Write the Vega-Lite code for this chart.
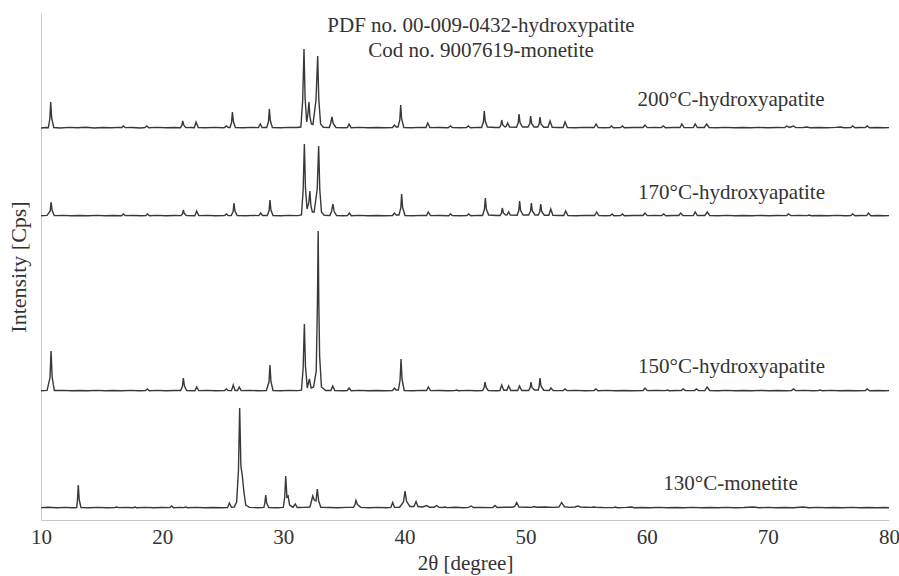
{
  "$schema": "https://vega.github.io/schema/vega-lite/v6.json",
  "autosize": "none",
  "padding": {"left": 41, "top": 13, "right": 10, "bottom": 56},
  "width": 848,
  "height": 507,
  "background": "white",
  "config": {
    "view": {"stroke": null},
    "font": "'Liberation Serif', 'Times New Roman', Times, serif",
    "axis": {"grid": false, "ticks": false, "tickSize": 0, "domainColor": "#c8c8c8", "domainWidth": 1, "labelFont": "'Liberation Serif', 'Times New Roman', Times, serif", "titleFont": "'Liberation Serif', 'Times New Roman', Times, serif", "labelFontSize": 21, "titleFontSize": 21, "titleFontWeight": "normal", "labelColor": "#333333", "titleColor": "#333333"},
    "text": {"font": "'Liberation Serif', 'Times New Roman', Times, serif"}
  },
  "datasets": {
    "s200": [
      {"t":10.0,"i":0},{"t":10.4,"i":5},{"t":10.6,"i":3},{"t":10.73,"i":90},{"t":10.8,"i":260},{"t":10.88,"i":100},{"t":11.05,"i":5},{"t":11.6,"i":0},{"t":12.3,"i":6},{"t":13.0,"i":2},{"t":13.7,"i":7},{"t":14.4,"i":0},{"t":15.1,"i":5},{"t":15.8,"i":3},{"t":16.5,"i":6},{"t":16.65,"i":2},{"t":16.8,"i":20},{"t":16.95,"i":4},{"t":17.5,"i":5},{"t":18.2,"i":0},{"t":18.58,"i":5},{"t":18.73,"i":20},{"t":18.9,"i":3},{"t":19.6,"i":6},{"t":20.3,"i":2},{"t":21.0,"i":5},{"t":21.5,"i":3},{"t":21.63,"i":25},{"t":21.7,"i":70},{"t":21.78,"i":30},{"t":21.95,"i":4},{"t":22.4,"i":5},{"t":22.65,"i":3},{"t":22.8,"i":60},{"t":22.98,"i":5},{"t":23.6,"i":2},{"t":24.3,"i":6},{"t":25.0,"i":3},{"t":25.15,"i":4},{"t":25.3,"i":20},{"t":25.45,"i":5},{"t":25.6,"i":5},{"t":25.73,"i":55},{"t":25.8,"i":160},{"t":25.88,"i":65},{"t":26.05,"i":5},{"t":26.7,"i":3},{"t":27.4,"i":6},{"t":27.95,"i":4},{"t":28.1,"i":40},{"t":28.25,"i":5},{"t":28.63,"i":5},{"t":28.78,"i":65},{"t":28.85,"i":190},{"t":28.93,"i":75},{"t":29.1,"i":5},{"t":29.8,"i":3},{"t":30.5,"i":6},{"t":31.1,"i":5},{"t":31.45,"i":10},{"t":31.6,"i":270},{"t":31.71,"i":790},{"t":31.8,"i":300},{"t":31.93,"i":60},{"t":32.03,"i":140},{"t":32.12,"i":260},{"t":32.2,"i":110},{"t":32.32,"i":40},{"t":32.45,"i":35},{"t":32.7,"i":280},{"t":32.84,"i":720},{"t":32.93,"i":290},{"t":33.08,"i":40},{"t":33.3,"i":8},{"t":33.8,"i":5},{"t":33.9,"i":40},{"t":34.02,"i":110},{"t":34.12,"i":45},{"t":34.35,"i":5},{"t":35.0,"i":3},{"t":35.3,"i":5},{"t":35.43,"i":40},{"t":35.6,"i":3},{"t":36.3,"i":6},{"t":37.0,"i":2},{"t":37.7,"i":5},{"t":38.4,"i":3},{"t":39.02,"i":5},{"t":39.17,"i":30},{"t":39.32,"i":10},{"t":39.47,"i":10},{"t":39.62,"i":80},{"t":39.69,"i":230},{"t":39.77,"i":90},{"t":39.95,"i":5},{"t":40.6,"i":3},{"t":41.3,"i":6},{"t":41.78,"i":5},{"t":41.92,"i":50},{"t":42.1,"i":4},{"t":42.8,"i":5},{"t":43.6,"i":3},{"t":43.8,"i":20},{"t":43.95,"i":5},{"t":44.6,"i":3},{"t":45.12,"i":5},{"t":45.27,"i":20},{"t":45.45,"i":3},{"t":46.1,"i":6},{"t":46.37,"i":5},{"t":46.52,"i":60},{"t":46.59,"i":170},{"t":46.67,"i":70},{"t":46.85,"i":10},{"t":47.5,"i":5},{"t":47.85,"i":5},{"t":47.96,"i":30},{"t":48.03,"i":80},{"t":48.12,"i":30},{"t":48.3,"i":10},{"t":48.4,"i":15},{"t":48.52,"i":50},{"t":48.68,"i":10},{"t":49.25,"i":8},{"t":49.39,"i":50},{"t":49.46,"i":140},{"t":49.54,"i":55},{"t":49.75,"i":10},{"t":50.2,"i":10},{"t":50.35,"i":45},{"t":50.42,"i":120},{"t":50.5,"i":45},{"t":50.7,"i":10},{"t":51.0,"i":10},{"t":51.12,"i":40},{"t":51.19,"i":110},{"t":51.27,"i":40},{"t":51.5,"i":8},{"t":51.85,"i":8},{"t":52.02,"i":70},{"t":52.2,"i":8},{"t":52.7,"i":5},{"t":53.1,"i":5},{"t":53.26,"i":60},{"t":53.45,"i":5},{"t":54.1,"i":3},{"t":54.8,"i":6},{"t":55.65,"i":5},{"t":55.82,"i":40},{"t":56.0,"i":5},{"t":56.5,"i":3},{"t":56.95,"i":4},{"t":57.1,"i":20},{"t":57.25,"i":3},{"t":57.85,"i":4},{"t":58.0,"i":20},{"t":58.15,"i":3},{"t":58.9,"i":5},{"t":59.7,"i":5},{"t":59.86,"i":30},{"t":60.05,"i":4},{"t":60.7,"i":6},{"t":61.2,"i":4},{"t":61.37,"i":20},{"t":61.55,"i":3},{"t":62.2,"i":5},{"t":62.75,"i":5},{"t":62.9,"i":40},{"t":63.08,"i":5},{"t":63.6,"i":4},{"t":63.85,"i":5},{"t":64.0,"i":40},{"t":64.18,"i":5},{"t":64.75,"i":5},{"t":64.95,"i":40},{"t":65.15,"i":5},{"t":65.8,"i":3},{"t":66.5,"i":6},{"t":67.2,"i":2},{"t":67.9,"i":5},{"t":68.6,"i":3},{"t":69.3,"i":6},{"t":70.0,"i":2},{"t":70.7,"i":5},{"t":71.4,"i":4},{"t":71.56,"i":20},{"t":71.8,"i":6},{"t":72.1,"i":20},{"t":72.3,"i":4},{"t":72.9,"i":5},{"t":73.2,"i":10},{"t":73.5,"i":3},{"t":74.2,"i":5},{"t":74.9,"i":3},{"t":75.6,"i":6},{"t":76.0,"i":10},{"t":76.3,"i":3},{"t":76.85,"i":4},{"t":77.0,"i":20},{"t":77.2,"i":3},{"t":77.6,"i":5},{"t":78.05,"i":4},{"t":78.2,"i":20},{"t":78.4,"i":3},{"t":79.0,"i":5},{"t":79.6,"i":3},{"t":80.0,"i":4}
    ],
    "s170": [
      {"t":10.0,"i":3},{"t":10.5,"i":6},{"t":10.76,"i":50},{"t":10.83,"i":140},{"t":10.92,"i":55},{"t":11.1,"i":4},{"t":11.8,"i":6},{"t":12.5,"i":2},{"t":13.2,"i":5},{"t":13.9,"i":3},{"t":14.6,"i":6},{"t":15.3,"i":2},{"t":16.0,"i":5},{"t":16.65,"i":3},{"t":16.8,"i":20},{"t":16.95,"i":4},{"t":17.6,"i":5},{"t":18.3,"i":2},{"t":18.65,"i":4},{"t":18.8,"i":20},{"t":18.95,"i":3},{"t":19.6,"i":6},{"t":20.3,"i":2},{"t":21.0,"i":5},{"t":21.55,"i":4},{"t":21.68,"i":22},{"t":21.75,"i":60},{"t":21.83,"i":25},{"t":22.0,"i":4},{"t":22.7,"i":3},{"t":22.85,"i":50},{"t":23.02,"i":4},{"t":23.7,"i":6},{"t":24.4,"i":2},{"t":25.15,"i":5},{"t":25.3,"i":20},{"t":25.45,"i":4},{"t":25.7,"i":5},{"t":25.86,"i":45},{"t":25.93,"i":130},{"t":26.01,"i":50},{"t":26.2,"i":5},{"t":26.9,"i":3},{"t":27.6,"i":6},{"t":27.98,"i":4},{"t":28.13,"i":30},{"t":28.28,"i":5},{"t":28.68,"i":5},{"t":28.83,"i":55},{"t":28.9,"i":160},{"t":28.98,"i":60},{"t":29.15,"i":5},{"t":29.8,"i":3},{"t":30.5,"i":6},{"t":31.2,"i":4},{"t":31.5,"i":10},{"t":31.64,"i":260},{"t":31.74,"i":720},{"t":31.83,"i":280},{"t":31.96,"i":70},{"t":32.1,"i":130},{"t":32.2,"i":250},{"t":32.28,"i":100},{"t":32.4,"i":40},{"t":32.55,"i":40},{"t":32.8,"i":270},{"t":32.92,"i":700},{"t":33.01,"i":270},{"t":33.15,"i":40},{"t":33.38,"i":8},{"t":33.85,"i":5},{"t":33.98,"i":45},{"t":34.1,"i":120},{"t":34.2,"i":45},{"t":34.4,"i":5},{"t":35.0,"i":3},{"t":35.3,"i":4},{"t":35.45,"i":30},{"t":35.62,"i":3},{"t":36.3,"i":6},{"t":37.0,"i":2},{"t":37.7,"i":5},{"t":38.4,"i":3},{"t":39.02,"i":5},{"t":39.17,"i":30},{"t":39.32,"i":10},{"t":39.55,"i":10},{"t":39.7,"i":80},{"t":39.77,"i":220},{"t":39.85,"i":85},{"t":40.05,"i":5},{"t":40.7,"i":3},{"t":41.4,"i":6},{"t":41.83,"i":5},{"t":41.97,"i":40},{"t":42.15,"i":4},{"t":42.9,"i":5},{"t":43.65,"i":3},{"t":43.8,"i":20},{"t":43.95,"i":5},{"t":44.6,"i":3},{"t":45.15,"i":5},{"t":45.3,"i":20},{"t":45.47,"i":3},{"t":46.1,"i":6},{"t":46.45,"i":5},{"t":46.6,"i":65},{"t":46.68,"i":180},{"t":46.76,"i":70},{"t":46.95,"i":10},{"t":47.6,"i":5},{"t":47.9,"i":5},{"t":48.01,"i":30},{"t":48.08,"i":80},{"t":48.17,"i":30},{"t":48.35,"i":10},{"t":48.47,"i":12},{"t":48.6,"i":40},{"t":48.75,"i":10},{"t":49.3,"i":8},{"t":49.44,"i":55},{"t":49.51,"i":150},{"t":49.59,"i":55},{"t":49.8,"i":10},{"t":50.25,"i":10},{"t":50.41,"i":50},{"t":50.48,"i":130},{"t":50.56,"i":50},{"t":50.78,"i":10},{"t":51.05,"i":10},{"t":51.18,"i":45},{"t":51.25,"i":120},{"t":51.33,"i":45},{"t":51.55,"i":8},{"t":51.92,"i":8},{"t":52.08,"i":70},{"t":52.25,"i":8},{"t":52.8,"i":5},{"t":53.15,"i":5},{"t":53.31,"i":50},{"t":53.5,"i":5},{"t":54.2,"i":3},{"t":54.9,"i":6},{"t":55.7,"i":5},{"t":55.87,"i":40},{"t":56.05,"i":5},{"t":56.6,"i":3},{"t":57.0,"i":4},{"t":57.15,"i":20},{"t":57.3,"i":3},{"t":57.85,"i":4},{"t":58.0,"i":20},{"t":58.15,"i":3},{"t":58.9,"i":5},{"t":59.7,"i":5},{"t":59.86,"i":30},{"t":60.05,"i":4},{"t":60.7,"i":6},{"t":61.25,"i":4},{"t":61.4,"i":20},{"t":61.58,"i":3},{"t":62.2,"i":5},{"t":62.65,"i":5},{"t":62.8,"i":30},{"t":62.98,"i":5},{"t":63.6,"i":4},{"t":63.85,"i":5},{"t":64.0,"i":40},{"t":64.18,"i":5},{"t":64.8,"i":5},{"t":65.0,"i":40},{"t":65.2,"i":5},{"t":65.9,"i":3},{"t":66.6,"i":6},{"t":67.3,"i":2},{"t":68.0,"i":5},{"t":68.7,"i":3},{"t":69.4,"i":6},{"t":70.1,"i":2},{"t":70.8,"i":5},{"t":71.55,"i":4},{"t":71.7,"i":20},{"t":71.9,"i":4},{"t":72.6,"i":5},{"t":73.25,"i":4},{"t":73.4,"i":10},{"t":73.6,"i":3},{"t":74.3,"i":5},{"t":75.0,"i":3},{"t":75.7,"i":6},{"t":76.4,"i":3},{"t":76.85,"i":4},{"t":77.0,"i":20},{"t":77.2,"i":3},{"t":77.7,"i":5},{"t":78.15,"i":4},{"t":78.3,"i":30},{"t":78.5,"i":3},{"t":79.1,"i":5},{"t":79.6,"i":3},{"t":80.0,"i":4}
    ],
    "s150": [
      {"t":10.0,"i":3},{"t":10.5,"i":6},{"t":10.74,"i":130},{"t":10.83,"i":400},{"t":10.92,"i":140},{"t":11.1,"i":5},{"t":11.8,"i":6},{"t":12.5,"i":2},{"t":13.2,"i":5},{"t":13.9,"i":3},{"t":14.6,"i":6},{"t":15.3,"i":2},{"t":16.0,"i":5},{"t":16.7,"i":3},{"t":17.4,"i":6},{"t":18.1,"i":2},{"t":18.63,"i":4},{"t":18.78,"i":20},{"t":18.93,"i":3},{"t":19.6,"i":6},{"t":20.3,"i":2},{"t":21.0,"i":5},{"t":21.52,"i":5},{"t":21.67,"i":45},{"t":21.75,"i":130},{"t":21.84,"i":50},{"t":22.02,"i":4},{"t":22.7,"i":3},{"t":22.85,"i":40},{"t":23.02,"i":4},{"t":23.7,"i":6},{"t":24.4,"i":2},{"t":25.15,"i":5},{"t":25.3,"i":20},{"t":25.45,"i":4},{"t":25.72,"i":4},{"t":25.87,"i":60},{"t":26.02,"i":5},{"t":26.22,"i":5},{"t":26.37,"i":40},{"t":26.52,"i":4},{"t":27.2,"i":6},{"t":27.9,"i":3},{"t":28.6,"i":5},{"t":28.82,"i":90},{"t":28.9,"i":260},{"t":28.98,"i":95},{"t":29.15,"i":5},{"t":29.8,"i":3},{"t":30.5,"i":6},{"t":31.2,"i":4},{"t":31.5,"i":8},{"t":31.64,"i":230},{"t":31.74,"i":670},{"t":31.83,"i":250},{"t":31.98,"i":30},{"t":32.15,"i":120},{"t":32.3,"i":30},{"t":32.5,"i":40},{"t":32.72,"i":200},{"t":32.82,"i":900},{"t":32.88,"i":1600},{"t":32.93,"i":900},{"t":33.0,"i":350},{"t":33.15,"i":40},{"t":33.5,"i":5},{"t":33.93,"i":5},{"t":34.08,"i":50},{"t":34.25,"i":5},{"t":35.0,"i":3},{"t":35.28,"i":4},{"t":35.43,"i":30},{"t":35.6,"i":3},{"t":36.3,"i":6},{"t":37.0,"i":2},{"t":37.7,"i":5},{"t":38.4,"i":3},{"t":39.02,"i":5},{"t":39.17,"i":30},{"t":39.32,"i":10},{"t":39.5,"i":10},{"t":39.64,"i":110},{"t":39.72,"i":320},{"t":39.8,"i":120},{"t":39.98,"i":5},{"t":40.7,"i":3},{"t":41.4,"i":6},{"t":41.83,"i":5},{"t":41.97,"i":40},{"t":42.15,"i":4},{"t":42.9,"i":5},{"t":43.6,"i":3},{"t":44.15,"i":4},{"t":44.3,"i":10},{"t":44.45,"i":3},{"t":45.2,"i":6},{"t":45.9,"i":3},{"t":46.45,"i":5},{"t":46.58,"i":35},{"t":46.65,"i":90},{"t":46.74,"i":35},{"t":46.92,"i":5},{"t":47.6,"i":3},{"t":47.88,"i":5},{"t":48.03,"i":60},{"t":48.2,"i":8},{"t":48.45,"i":8},{"t":48.6,"i":50},{"t":48.78,"i":5},{"t":49.35,"i":5},{"t":49.5,"i":50},{"t":49.68,"i":5},{"t":50.25,"i":5},{"t":50.38,"i":35},{"t":50.45,"i":90},{"t":50.53,"i":35},{"t":50.75,"i":10},{"t":51.05,"i":10},{"t":51.12,"i":45},{"t":51.19,"i":130},{"t":51.27,"i":50},{"t":51.5,"i":8},{"t":51.95,"i":5},{"t":52.1,"i":30},{"t":52.28,"i":4},{"t":53.1,"i":4},{"t":53.26,"i":20},{"t":53.42,"i":4},{"t":54.1,"i":6},{"t":54.9,"i":3},{"t":55.65,"i":4},{"t":55.8,"i":20},{"t":55.98,"i":3},{"t":56.7,"i":6},{"t":57.4,"i":2},{"t":58.1,"i":5},{"t":58.8,"i":3},{"t":59.7,"i":5},{"t":59.86,"i":30},{"t":60.05,"i":4},{"t":60.8,"i":6},{"t":61.55,"i":4},{"t":61.7,"i":10},{"t":61.85,"i":3},{"t":62.5,"i":5},{"t":62.85,"i":4},{"t":63.0,"i":20},{"t":63.18,"i":4},{"t":63.95,"i":5},{"t":64.1,"i":20},{"t":64.28,"i":4},{"t":64.8,"i":5},{"t":64.98,"i":40},{"t":65.2,"i":5},{"t":65.9,"i":3},{"t":66.6,"i":6},{"t":67.3,"i":2},{"t":68.0,"i":5},{"t":68.7,"i":3},{"t":69.4,"i":6},{"t":70.1,"i":2},{"t":70.8,"i":5},{"t":71.5,"i":3},{"t":71.95,"i":4},{"t":72.1,"i":20},{"t":72.3,"i":4},{"t":73.0,"i":6},{"t":73.7,"i":3},{"t":74.15,"i":4},{"t":74.3,"i":10},{"t":74.5,"i":3},{"t":75.2,"i":6},{"t":75.9,"i":3},{"t":76.6,"i":5},{"t":77.3,"i":3},{"t":78.05,"i":4},{"t":78.2,"i":20},{"t":78.4,"i":3},{"t":79.1,"i":5},{"t":79.6,"i":3},{"t":80.0,"i":4}
    ],
    "s130": [
      {"t":10.0,"i":4},{"t":10.6,"i":7},{"t":11.3,"i":2},{"t":12.0,"i":6},{"t":12.6,"i":3},{"t":12.95,"i":5},{"t":13.01,"i":80},{"t":13.08,"i":230},{"t":13.15,"i":85},{"t":13.3,"i":5},{"t":14.0,"i":3},{"t":14.7,"i":6},{"t":15.4,"i":2},{"t":16.1,"i":5},{"t":16.25,"i":10},{"t":16.4,"i":4},{"t":17.0,"i":6},{"t":17.6,"i":3},{"t":17.76,"i":10},{"t":17.9,"i":3},{"t":18.6,"i":6},{"t":19.3,"i":2},{"t":20.0,"i":5},{"t":20.64,"i":4},{"t":20.79,"i":20},{"t":20.95,"i":3},{"t":21.5,"i":6},{"t":21.8,"i":4},{"t":21.94,"i":10},{"t":22.1,"i":3},{"t":22.8,"i":6},{"t":23.5,"i":2},{"t":24.2,"i":5},{"t":24.9,"i":3},{"t":25.4,"i":5},{"t":25.55,"i":50},{"t":25.72,"i":8},{"t":25.95,"i":10},{"t":26.15,"i":60},{"t":26.3,"i":380},{"t":26.4,"i":1000},{"t":26.5,"i":420},{"t":26.62,"i":320},{"t":26.75,"i":160},{"t":26.9,"i":30},{"t":27.03,"i":20},{"t":27.2,"i":6},{"t":27.9,"i":3},{"t":28.4,"i":6},{"t":28.48,"i":50},{"t":28.55,"i":130},{"t":28.63,"i":50},{"t":28.8,"i":5},{"t":29.5,"i":3},{"t":30.0,"i":6},{"t":30.12,"i":110},{"t":30.2,"i":320},{"t":30.3,"i":110},{"t":30.4,"i":120},{"t":30.52,"i":30},{"t":30.8,"i":8},{"t":30.99,"i":40},{"t":31.15,"i":5},{"t":31.8,"i":6},{"t":32.2,"i":10},{"t":32.35,"i":80},{"t":32.43,"i":120},{"t":32.55,"i":80},{"t":32.7,"i":70},{"t":32.81,"i":190},{"t":32.92,"i":70},{"t":33.1,"i":8},{"t":33.8,"i":5},{"t":34.5,"i":3},{"t":35.2,"i":6},{"t":35.8,"i":8},{"t":35.93,"i":40},{"t":36.0,"i":75},{"t":36.12,"i":35},{"t":36.4,"i":6},{"t":37.1,"i":3},{"t":37.8,"i":6},{"t":38.5,"i":3},{"t":38.88,"i":6},{"t":39.03,"i":55},{"t":39.18,"i":6},{"t":39.6,"i":8},{"t":39.92,"i":60},{"t":40.05,"i":170},{"t":40.17,"i":70},{"t":40.45,"i":15},{"t":40.78,"i":15},{"t":40.96,"i":65},{"t":41.12,"i":15},{"t":41.5,"i":10},{"t":41.84,"i":25},{"t":42.05,"i":8},{"t":42.45,"i":8},{"t":42.66,"i":25},{"t":42.85,"i":8},{"t":43.15,"i":5},{"t":43.35,"i":10},{"t":43.55,"i":4},{"t":44.2,"i":8},{"t":44.9,"i":3},{"t":45.3,"i":6},{"t":45.5,"i":20},{"t":45.7,"i":5},{"t":46.4,"i":6},{"t":47.1,"i":4},{"t":47.3,"i":5},{"t":47.48,"i":25},{"t":47.65,"i":5},{"t":48.3,"i":8},{"t":48.9,"i":8},{"t":49.1,"i":15},{"t":49.27,"i":55},{"t":49.45,"i":10},{"t":50.0,"i":8},{"t":50.5,"i":6},{"t":50.7,"i":15},{"t":50.9,"i":8},{"t":51.6,"i":10},{"t":52.3,"i":6},{"t":52.75,"i":10},{"t":52.98,"i":55},{"t":53.2,"i":12},{"t":53.6,"i":6},{"t":54.1,"i":10},{"t":54.3,"i":20},{"t":54.55,"i":10},{"t":55.0,"i":8},{"t":55.45,"i":6},{"t":55.6,"i":10},{"t":55.8,"i":8},{"t":56.4,"i":5},{"t":57.25,"i":4},{"t":57.4,"i":10},{"t":57.6,"i":3},{"t":58.3,"i":6},{"t":58.76,"i":10},{"t":58.95,"i":3},{"t":59.6,"i":5},{"t":60.3,"i":2},{"t":61.0,"i":6},{"t":61.7,"i":3},{"t":62.4,"i":5},{"t":63.1,"i":2},{"t":63.8,"i":6},{"t":64.5,"i":3},{"t":65.2,"i":5},{"t":65.9,"i":2},{"t":66.6,"i":6},{"t":67.3,"i":3},{"t":68.0,"i":5},{"t":68.8,"i":10},{"t":69.3,"i":3},{"t":70.0,"i":6},{"t":70.7,"i":2},{"t":71.4,"i":5},{"t":72.1,"i":3},{"t":72.9,"i":10},{"t":73.4,"i":3},{"t":74.1,"i":6},{"t":74.8,"i":2},{"t":75.5,"i":5},{"t":76.2,"i":3},{"t":76.9,"i":6},{"t":77.6,"i":2},{"t":78.3,"i":5},{"t":79.0,"i":3},{"t":79.6,"i":5},{"t":80.0,"i":3}
    ],
    "l200": [
      {"t":46.32,"i":960,"label":"PDF no. 00-009-0432-hydroxypatite"},
      {"t":46.32,"i":710,"label":"Cod no. 9007619-monetite"},
      {"t":66.96,"i":220,"label":"200°C-hydroxyapatite"}
    ],
    "l170": [{"t":67.0,"i":170,"label":"170°C-hydroxyapatite"}],
    "l150": [{"t":67.0,"i":180,"label":"150°C-hydroxyapatite"}],
    "l130": [{"t":66.92,"i":180,"label":"130°C-monetite"}]
  },
  "resolve": {"scale": {"y": "independent"}, "axis": {"y": "independent"}},
  "layer": [
    {
      "data": {"name": "s200"},
      "mark": {"type": "line", "color": "#383838", "strokeWidth": 1.4},
      "encoding": {
        "x": {"field": "t", "type": "quantitative", "scale": {"domain": [10, 80], "nice": false, "zero": false}, "axis": {"title": "2θ [degree]", "values": [10, 20, 30, 40, 50, 60, 70, 80], "labelFlush": false, "labelPadding": 6, "titlePadding": 5}},
        "y": {"field": "i", "type": "quantitative", "scale": {"domain": [-3920, 1150], "nice": false, "zero": false}, "axis": null}
      }
    },
    {
      "data": {"name": "l200"},
      "mark": {"type": "text", "font": "'Liberation Serif', 'Times New Roman', Times, serif", "fontSize": 21, "align": "center", "baseline": "alphabetic", "color": "#333333"},
      "encoding": {
        "x": {"field": "t", "type": "quantitative", "scale": {"domain": [10, 80], "nice": false, "zero": false}, "axis": {"title": "2θ [degree]", "values": [10, 20, 30, 40, 50, 60, 70, 80], "labelFlush": false, "labelPadding": 6, "titlePadding": 5}},
        "y": {"field": "i", "type": "quantitative", "scale": {"domain": [-3920, 1150], "nice": false, "zero": false}, "axis": null},
        "text": {"field": "label"}
      }
    },
    {
      "data": {"name": "s170"},
      "mark": {"type": "line", "color": "#383838", "strokeWidth": 1.4},
      "encoding": {
        "x": {"field": "t", "type": "quantitative", "scale": {"domain": [10, 80], "nice": false, "zero": false}, "axis": {"title": "2θ [degree]", "values": [10, 20, 30, 40, 50, 60, 70, 80], "labelFlush": false, "labelPadding": 6, "titlePadding": 5}},
        "y": {"field": "i", "type": "quantitative", "scale": {"domain": [-3040, 2030], "nice": false, "zero": false}, "axis": null}
      }
    },
    {
      "data": {"name": "l170"},
      "mark": {"type": "text", "font": "'Liberation Serif', 'Times New Roman', Times, serif", "fontSize": 21, "align": "center", "baseline": "alphabetic", "color": "#333333"},
      "encoding": {
        "x": {"field": "t", "type": "quantitative", "scale": {"domain": [10, 80], "nice": false, "zero": false}, "axis": {"title": "2θ [degree]", "values": [10, 20, 30, 40, 50, 60, 70, 80], "labelFlush": false, "labelPadding": 6, "titlePadding": 5}},
        "y": {"field": "i", "type": "quantitative", "scale": {"domain": [-3040, 2030], "nice": false, "zero": false}, "axis": null},
        "text": {"field": "label"}
      }
    },
    {
      "data": {"name": "s150"},
      "mark": {"type": "line", "color": "#383838", "strokeWidth": 1.4},
      "encoding": {
        "x": {"field": "t", "type": "quantitative", "scale": {"domain": [10, 80], "nice": false, "zero": false}, "axis": {"title": "2θ [degree]", "values": [10, 20, 30, 40, 50, 60, 70, 80], "labelFlush": false, "labelPadding": 6, "titlePadding": 5}},
        "y": {"field": "i", "type": "quantitative", "scale": {"domain": [-1290, 3780], "nice": false, "zero": false}, "axis": null}
      }
    },
    {
      "data": {"name": "l150"},
      "mark": {"type": "text", "font": "'Liberation Serif', 'Times New Roman', Times, serif", "fontSize": 21, "align": "center", "baseline": "alphabetic", "color": "#333333"},
      "encoding": {
        "x": {"field": "t", "type": "quantitative", "scale": {"domain": [10, 80], "nice": false, "zero": false}, "axis": {"title": "2θ [degree]", "values": [10, 20, 30, 40, 50, 60, 70, 80], "labelFlush": false, "labelPadding": 6, "titlePadding": 5}},
        "y": {"field": "i", "type": "quantitative", "scale": {"domain": [-1290, 3780], "nice": false, "zero": false}, "axis": null},
        "text": {"field": "label"}
      }
    },
    {
      "data": {"name": "s130"},
      "mark": {"type": "line", "color": "#383838", "strokeWidth": 1.4},
      "encoding": {
        "x": {"field": "t", "type": "quantitative", "scale": {"domain": [10, 80], "nice": false, "zero": false}, "axis": {"title": "2θ [degree]", "values": [10, 20, 30, 40, 50, 60, 70, 80], "labelFlush": false, "labelPadding": 6, "titlePadding": 5}},
        "y": {"field": "i", "type": "quantitative", "scale": {"domain": [-120, 4950], "nice": false, "zero": false}, "axis": {"title": "Intensity [Cps]", "titleFontSize": 22, "labels": false, "ticks": false, "titlePadding": 11}}
      }
    },
    {
      "data": {"name": "l130"},
      "mark": {"type": "text", "font": "'Liberation Serif', 'Times New Roman', Times, serif", "fontSize": 21, "align": "center", "baseline": "alphabetic", "color": "#333333"},
      "encoding": {
        "x": {"field": "t", "type": "quantitative", "scale": {"domain": [10, 80], "nice": false, "zero": false}, "axis": {"title": "2θ [degree]", "values": [10, 20, 30, 40, 50, 60, 70, 80], "labelFlush": false, "labelPadding": 6, "titlePadding": 5}},
        "y": {"field": "i", "type": "quantitative", "scale": {"domain": [-120, 4950], "nice": false, "zero": false}, "axis": null},
        "text": {"field": "label"}
      }
    }
  ]
}
